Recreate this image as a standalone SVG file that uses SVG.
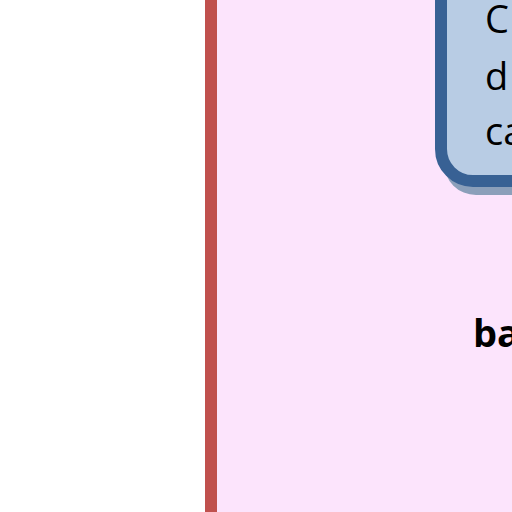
<svg xmlns="http://www.w3.org/2000/svg" width="512" height="512" viewBox="0 0 512 512">
<style>
.t{font-family:"Open Sans","Liberation Sans",sans-serif;font-size:38px;fill:#000}
</style>
<rect x="0" y="0" width="512" height="512" fill="#ffffff"/>
<g id="panel">
<rect x="217" y="0" width="295" height="512" fill="#fce4fc"/>
<rect x="205" y="0" width="12" height="512" fill="#c0504d"/>
</g>
<g id="box">
<rect x="444" y="-60" width="120" height="255" rx="32" fill="#8b9fba"/>
<rect x="441" y="-60" width="120" height="241" rx="32" fill="#b8cce4" stroke="#386194" stroke-width="12"/>
<text class="t" x="485" y="33">C</text>
<text class="t" x="485" y="90">d</text>
<text class="t" x="485" y="145">ca</text>
</g>
<g id="label">
<text class="t" x="473" y="347" font-weight="bold" font-size="40">ba</text>
</g>
</svg>
